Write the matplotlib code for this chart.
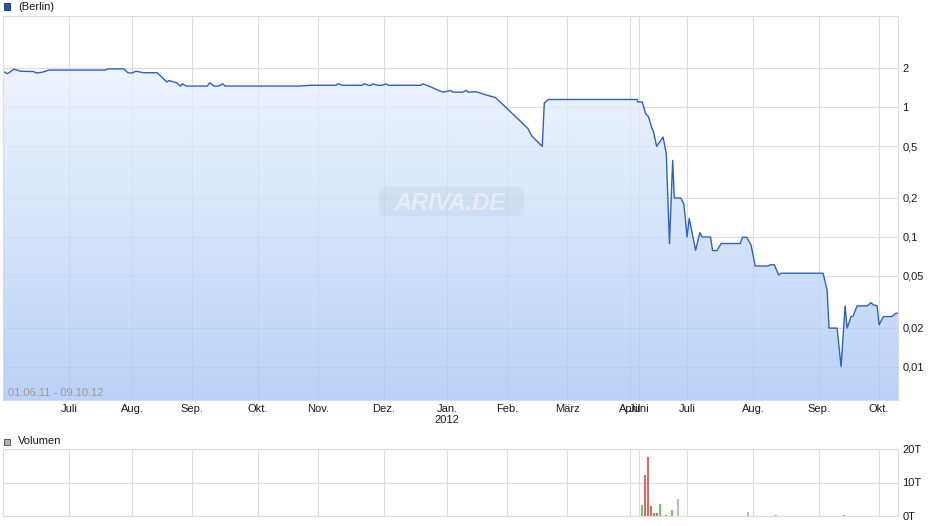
import numpy as np
import pandas as pd
import matplotlib
matplotlib.use("Agg")
import matplotlib.pyplot as plt
import matplotlib.dates as mdates
from matplotlib.patches import Rectangle, FancyBboxPatch
from matplotlib.colors import LinearSegmentedColormap
from matplotlib.ticker import NullLocator

plt.rcParams['font.family'] = ['Liberation Sans', 'DejaVu Sans']

# ---------------- data ----------------
price_dates = [
    '2011-06-01', '2011-06-03', '2011-06-06', '2011-06-09', '2011-06-15', '2011-06-16', '2011-06-19', '2011-06-22',
    '2011-07-19', '2011-07-20', '2011-07-28', '2011-07-30',
    '2011-08-01', '2011-08-03', '2011-08-07', '2011-08-14', '2011-08-19', '2011-08-20', '2011-08-24', '2011-08-26',
    '2011-08-27', '2011-08-29',
    '2011-09-08', '2011-09-09', '2011-09-11', '2011-09-13', '2011-09-15', '2011-09-16',
    '2011-10-22', '2011-10-28',
    '2011-11-09', '2011-11-10', '2011-11-12', '2011-11-21', '2011-11-22', '2011-11-24', '2011-11-25', '2011-11-26',
    '2011-11-28', '2011-11-30',
    '2011-12-02', '2011-12-03', '2011-12-19', '2011-12-20', '2011-12-23', '2011-12-28', '2011-12-30',
    '2012-01-03', '2012-01-04', '2012-01-09', '2012-01-11', '2012-01-12', '2012-01-16', '2012-01-21', '2012-01-26',
    '2012-02-01', '2012-02-11', '2012-02-13', '2012-02-18', '2012-02-19', '2012-02-21',
    '2012-05-18', '2012-05-25',
    '2012-06-03', '2012-06-05', '2012-06-07', '2012-06-09', '2012-06-10', '2012-06-12', '2012-06-16', '2012-06-18',
    '2012-06-20', '2012-06-22', '2012-06-23', '2012-06-27', '2012-06-29',
    '2012-07-01', '2012-07-02', '2012-07-05', '2012-07-07', '2012-07-08', '2012-07-12', '2012-07-13', '2012-07-15',
    '2012-07-17', '2012-07-26', '2012-07-27', '2012-07-29', '2012-07-31',
    '2012-08-02', '2012-08-08', '2012-08-09', '2012-08-11', '2012-08-13', '2012-08-14',
    '2012-09-03', '2012-09-05', '2012-09-06', '2012-09-10', '2012-09-12', '2012-09-14', '2012-09-15', '2012-09-17',
    '2012-09-18', '2012-09-20', '2012-09-25', '2012-09-27', '2012-09-28', '2012-09-30',
    '2012-10-01', '2012-10-03', '2012-10-07', '2012-10-09', '2012-10-10',
]
price_values = [
    1.90, 1.82, 1.97, 1.90, 1.89, 1.84, 1.87, 1.94,
    1.94, 1.98, 1.98, 1.85,
    1.84, 1.90, 1.85, 1.85, 1.57, 1.61, 1.55, 1.46, 1.52, 1.46,
    1.46, 1.55, 1.46, 1.46, 1.52, 1.46,
    1.46, 1.48,
    1.48, 1.52, 1.48, 1.48, 1.52, 1.48, 1.48, 1.52, 1.48, 1.48,
    1.52, 1.48, 1.48, 1.52, 1.46, 1.35, 1.31,
    1.35, 1.31, 1.31, 1.35, 1.31, 1.32, 1.25, 1.19,
    0.98, 0.69, 0.60, 0.50, 1.08, 1.15,
    1.15, 1.10,
    1.10, 0.90, 0.84, 0.69, 0.65, 0.50, 0.59, 0.44, 0.089, 0.39, 0.20, 0.20, 0.18,
    0.10, 0.139, 0.079, 0.108, 0.10, 0.10, 0.0785, 0.0785, 0.089, 0.089, 0.0995, 0.0995, 0.087,
    0.0597, 0.0597, 0.061, 0.061, 0.0509, 0.0525,
    0.0525, 0.039, 0.0198, 0.0198, 0.0100, 0.0294, 0.0198, 0.0243, 0.0245, 0.0294, 0.0294, 0.0311, 0.0300, 0.0294,
    0.0210, 0.0243, 0.0243, 0.0258, 0.0258,
]

vol_dates = ['2012-06-02 16:00', '2012-06-04 13:00', '2012-06-06 10:00', '2012-06-08 08:00', '2012-06-10 05:00',
             '2012-06-12 02:00', '2012-06-13 22:00', '2012-06-17 16:00', '2012-06-21 10:00', '2012-06-25 05:00',
             '2012-07-29 12:00', '2012-08-11 12:00', '2012-09-13 12:00']
vol_values = [3.3, 12.2, 17.7, 3.0, 0.8, 0.8, 3.5, 0.4, 1.8, 5.0, 1.2, 0.2, 0.2]   # in T (thousands)
vol_dir = ['up', 'down', 'down', 'down', 'down', 'down', 'up', 'down', 'up', 'flat', 'flat', 'flat', 'up']

month_ticks = ['2011-07-01', '2011-08-01', '2011-09-01', '2011-10-01', '2011-11-01', '2011-12-01', '2012-01-01',
               '2012-02-01', '2012-03-01', '2012-04-01', '2012-06-01', '2012-07-01', '2012-08-01', '2012-09-01',
               '2012-10-01']
month_labels = ['Juli', 'Aug.', 'Sep.', 'Okt.', 'Nov.', 'Dez.', 'Jan.\n2012', 'Feb.', 'März', 'April', 'Juni',
                'Juli', 'Aug.', 'Sep.', 'Okt.']

price_ticks = [2, 1, 0.5, 0.2, 0.1, 0.05, 0.02, 0.01]
price_labels = ['2', '1', '0,5', '0,2', '0,1', '0,05', '0,02', '0,01']
vol_ticks = [0, 10, 20]
vol_labels = ['0T', '10T', '20T']

# ---------------- trading-session based x scale ----------------
seg_starts = ['2011-06-01', '2011-07-01', '2011-08-01', '2011-09-01', '2011-10-01', '2011-11-01', '2011-12-01',
              '2012-01-01', '2012-02-01', '2012-03-01', '2012-04-01', '2012-06-01', '2012-07-01', '2012-08-01',
              '2012-09-01', '2012-10-01', '2012-10-10']
sessions = [22, 21, 20, 22, 20, 22, 21, 20, 20, 21, 3, 16, 22, 22, 20, 6.3]

anc_x = mdates.date2num(pd.to_datetime(seg_starts, format='ISO8601'))
anc_p = np.concatenate([[0.0], np.cumsum(sessions)])
ext_x = np.concatenate([[anc_x[0] - 3650], anc_x, [anc_x[-1] + 3650]])
ext_p = np.concatenate([[anc_p[0] - 3650 * 0.7], anc_p, [anc_p[-1] + 3650 * 0.7]])


def fwd(x):
    return np.interp(np.asarray(x, dtype=float), ext_x, ext_p)


def inv(p):
    return np.interp(np.asarray(p, dtype=float), ext_p, ext_x)


pd_num = mdates.date2num(pd.to_datetime(price_dates, format='ISO8601'))
vd_num = mdates.date2num(pd.to_datetime(vol_dates, format='ISO8601'))
mt_num = mdates.date2num(pd.to_datetime(month_ticks, format='ISO8601'))
xmin, xmax = anc_x[0], anc_x[-1]

W, H = 940, 526
fig = plt.figure(figsize=(W / 100, H / 100), dpi=100)
fig.patch.set_facecolor('white')

grid_c = '#dcdcdc'
txt_c = '#1a1a1a'

# ---------------- price panel ----------------
ax = fig.add_axes([3 / W, (H - 400) / H, 895 / W, 384 / H])
ax.set_yscale('log')
ax.set_xscale('function', functions=(fwd, inv))

fb = ax.fill_between(pd_num, price_values, 1e-4, facecolor='none', edgecolor='none')
cmap = LinearSegmentedColormap.from_list('g', ['#f4f8ff', '#a4c4f4'])
grad = np.linspace(0, 1, 256).reshape(-1, 1)
im = ax.imshow(grad, extent=[0, 1, 0, 1], transform=ax.transAxes, cmap=cmap, aspect='auto',
               origin='upper', zorder=1, interpolation='bilinear', alpha=0.75)
im.set_clip_path(fb.get_paths()[0], ax.transData)

ax.plot(pd_num, price_values, color='#2d62c2', lw=1.0, zorder=4)

ax.set_xlim(xmin, xmax)
ax.set_ylim(0.00552, 5.07)
ax.set_xticks(mt_num)
ax.set_xticklabels(month_labels, linespacing=1.15)
ax.xaxis.set_minor_locator(NullLocator())
ax.yaxis.set_minor_locator(NullLocator())
ax.set_yticks(price_ticks)
ax.set_yticklabels(price_labels)
ax.yaxis.tick_right()
ax.tick_params(axis='both', length=0, labelsize=8, colors=txt_c)
ax.tick_params(axis='x', pad=3)
ax.tick_params(axis='y', pad=3)
ax.set_axisbelow(True)
ax.grid(True, color=grid_c, lw=0.8)
for s in ax.spines.values():
    s.set_color(grid_c)
    s.set_linewidth(0.8)
    s.set_zorder(5)

ax.text(0.0056, 0.006, '01.06.11 - 09.10.12', transform=ax.transAxes, fontsize=8, color='#9a9a9a',
        ha='left', va='bottom', zorder=5)

# watermark
wm = FancyBboxPatch((3.79, 3.10), 1.45, 0.29, boxstyle='round,pad=0,rounding_size=0.07',
                    transform=fig.dpi_scale_trans, facecolor='#a8b6ca', edgecolor='none', alpha=0.16, zorder=2)
ax.add_patch(wm)
ax.text(0.4994, 0.513, 'ARIVA.DE', transform=ax.transAxes, fontsize=17, fontweight='bold', style='italic',
        color='#f2f6fc', alpha=0.6, ha='center', va='center', zorder=2.5)

# ---------------- volume panel ----------------
ax2 = fig.add_axes([3 / W, (H - 516) / H, 895 / W, 67 / H])
ax2.set_xscale('function', functions=(fwd, inv))
col_map = {'up': '#66cc66', 'down': '#e06666', 'flat': '#bbbbbb'}
ax2.bar(vd_num, vol_values, width=1.0, color=[col_map[d] for d in vol_dir], zorder=3)
ax2.set_xlim(xmin, xmax)
ax2.set_ylim(0, 20)
ax2.set_xticks(mt_num)
ax2.xaxis.set_minor_locator(NullLocator())
ax2.set_yticks(vol_ticks)
ax2.set_yticklabels(vol_labels)
ax2.yaxis.tick_right()
ax2.tick_params(axis='both', length=0, labelsize=8, colors=txt_c)
ax2.tick_params(axis='x', labelbottom=False)
ax2.tick_params(axis='y', pad=3)
ax2.set_axisbelow(True)
ax2.grid(True, color=grid_c, lw=0.8)
for s in ax2.spines.values():
    s.set_color(grid_c)
    s.set_linewidth(0.8)

# ---------------- legends ----------------
fig.add_artist(Rectangle((3.5 / W, 1 - 10 / H), 6.5 / W, 6.5 / H, transform=fig.transFigure,
                         facecolor='#1d56b8', edgecolor='#10306a', lw=0.6))
fig.text(18 / W, 1 - 6.5 / H, '(Berlin)', fontsize=8, color=txt_c, va='center', ha='left')
fig.add_artist(Rectangle((3.5 / W, 1 - 445 / H), 6.5 / W, 6.5 / H, transform=fig.transFigure,
                         facecolor='#b0b0b0', edgecolor='#444444', lw=0.6))
fig.text(18 / W, 1 - 441 / H, 'Volumen', fontsize=8, color=txt_c, va='center', ha='left')

fig.savefig('out.png', dpi=100)
